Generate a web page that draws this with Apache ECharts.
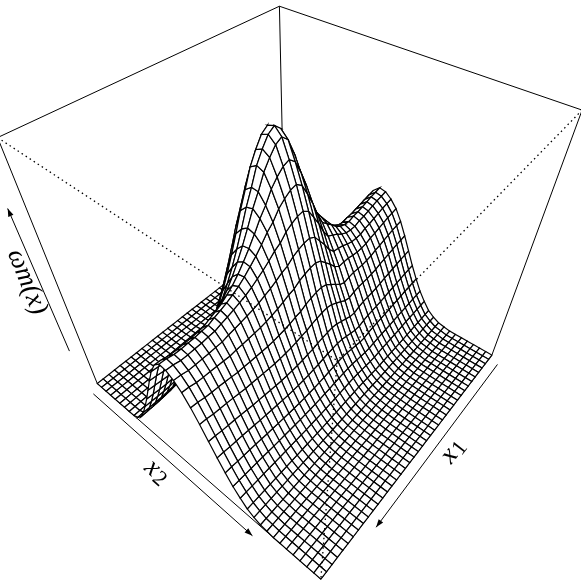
<!DOCTYPE html>
<html>
<head>
<meta charset="utf-8">
<style>html,body{margin:0;padding:0;background:#fff}#main{width:581px;height:581px}</style>
<script src="https://cdn.jsdelivr.net/npm/echarts@6/dist/echarts.min.js"></script>
</head>
<body>
<div id="main"></div>
<script>
(function () {
    'use strict';

    var tallPeakAlongX1 = [0, 0, 0, .01, .02, .03, .05, .07, .12, .2, .3, .45, .62, .82, 1.05, 1.27, 1.45, 1.58, 1.63, 1.6, 1.53, 1.44, 1.31, 1.18, 1.03, .88, .74, .61, .49, .39, .3, .24, .18, .13, .095, .065, .045, .03, .02, .012, .007];
    var tallPeakAcrossX2 = [0, 0, 0, 0, .01, .02, .04, .08, .15, .26, .42, .6, .78, .93, 1, .98, .92, .82, .72, .62, .52, .43, .34, .27, .2, .15, .11, .08, .055, .035, .02, .012, .007, .004, .002, 0, 0, 0, 0, 0, 0];
    var ridgeAlongX1 = [.98, .97, .96, .94, .92, .9, .88, .85, .82, .78, .74, .68, .6, .5, .43, .39, .36, .345, .33, .325, .32, .325, .33, .345, .36, .39, .42, .46, .5, .55, .6, .65, .7, .75, .8, .85, .89, .92, .95, .98, 1];
    var ridgeAcrossX2 = [0, 0, 0, 0, 0, 0, 0, 0, 0, .03, .09, .19, .31, .44, .58, .72, .85, .95, 1, .99, .95, .89, .8, .69, .57, .45, .34, .24, .16, .09, .05, .02, .01, 0, 0, 0, 0, 0, 0, 0, 0];
    var shoulderAlongX1 = [0, 0, 0, 0, 0, 0, 0, 0, 0, 0, 0, 0, 0, 0, 0, 0, 0, .02, .05, .08, .13, .17, .22, .29, .36, .41, .46, .48, .5, .49, .47, .42, .375, .31, .255, .19, .14, .1, .06, .04, .02];
    var shoulderAcrossX2 = [0, 0, 0, 0, 0, 0, 0, 0, 0, 0, 0, 0, 0, 0, .05, .14, .28, .42, .52, .55, .52, .43, .34, .27, .2, .15, .11, .08, .055, .035, .02, .012, .007, .004, .002, 0, 0, 0, 0, 0, 0];

    var labelX1 = 'x';
    var labelX2 = 'x';
    var labelZ = 'ωm(x)';

    var view = {theta: 40, phi: 45, dist: 3.65, focal: 610, cx: 298.5, cy: 270};
    var sinT = Math.sin(view.theta * Math.PI / 180);
    var cosT = Math.cos(view.theta * Math.PI / 180);
    var sinP = Math.sin(view.phi * Math.PI / 180);
    var cosP = Math.cos(view.phi * Math.PI / 180);

    // a = x1, b = x2, both -1..1, h = height above the floor, 0..2
    function project(a, b, h) {
        var z = h - 1;
        var across = -sinT * a + cosT * b;
        var depth = -(cosT * a + sinT * b);
        var w = view.dist + depth * cosP - z * sinP;
        var up = depth * sinP + z * cosP;
        return [view.cx + view.focal * across / w, view.cy - view.focal * up / w, w];
    }

    var n = tallPeakAlongX1.length;
    var heights = [];
    var i, j;
    for (i = 0; i < n; i++) {
        heights[i] = [];
        for (j = 0; j < n; j++) {
            heights[i][j] = tallPeakAlongX1[i] * tallPeakAcrossX2[j] +
                ridgeAlongX1[i] * ridgeAcrossX2[j] +
                shoulderAlongX1[i] * shoulderAcrossX2[j];
        }
    }

    function gridPoint(i, j) {
        return project(-1 + 2 * i / (n - 1), -1 + 2 * j / (n - 1), heights[i][j]);
    }

    // far cells first so the near ones paint over them
    var cells = [];
    for (i = 0; i < n - 1; i++) {
        for (j = 0; j < n - 1; j++) {
            cells.push([i, j, gridPoint(i, j)[2] + gridPoint(i + 1, j)[2] + gridPoint(i, j + 1)[2] + gridPoint(i + 1, j + 1)[2]]);
        }
    }
    cells.sort(function (p, q) {
        return q[2] - p[2];
    });

    var solidEdges = [
        [[-1, -1, 2], [1, -1, 2]],
        [[-1, -1, 2], [-1, 1, 2]],
        [[-1, -1, 2], [-1, -1, 0]],
        [[1, -1, 2], [1, -1, 0]],
        [[-1, 1, 2], [-1, 1, 0]],
        [[1, -1, 0], [1, 1, 0]],
        [[-1, 1, 0], [1, 1, 0]]
    ];
    var dottedEdges = [
        [[1, -1, 2], [1, 1, 2]],
        [[-1, 1, 2], [1, 1, 2]],
        [[1, 1, 2], [1, 1, 0]]
    ];
    var arrows = [
        [[-.95, 1.07, 0], [.57, 1.07, 0]],
        [[1.07, -.95, 0], [1.07, .55, 0]],
        [[1.065, -1.065, .38], [1.065, -1.065, 1.58]]
    ];

    function renderSegment(params, api, list, dash) {
        var seg = list[api.value(0)];
        var p = api.coord(project(seg[0][0], seg[0][1], seg[0][2]));
        var q = api.coord(project(seg[1][0], seg[1][1], seg[1][2]));
        return {
            type: 'line',
            shape: {x1: p[0], y1: p[1], x2: q[0], y2: q[1]},
            style: {stroke: '#000', lineWidth: dash ? 1.3 : 1, lineDash: dash}
        };
    }

    function indexData(list) {
        return list.map(function (d, k) {
            return [k, 0];
        });
    }

    function renderArrow(params, api) {
        var seg = arrows[api.value(0)];
        var p = api.coord(project(seg[0][0], seg[0][1], seg[0][2]));
        var q = api.coord(project(seg[1][0], seg[1][1], seg[1][2]));
        var ang = Math.atan2(q[1] - p[1], q[0] - p[0]);
        var back = [q[0] - 8 * Math.cos(ang), q[1] - 8 * Math.sin(ang)];
        var nx = -Math.sin(ang) * 2.8;
        var ny = Math.cos(ang) * 2.8;
        return {
            type: 'group',
            children: [{
                type: 'line',
                shape: {x1: p[0], y1: p[1], x2: q[0], y2: q[1]},
                style: {stroke: '#000', lineWidth: 1}
            }, {
                type: 'polygon',
                shape: {points: [q, [back[0] + nx, back[1] + ny], [back[0] - nx, back[1] - ny]]},
                style: {fill: '#000'}
            }]
        };
    }

    var serif = '"Liberation Serif"';
    var rich = {
        v: {font: 'italic 27px ' + serif},
        s: {font: '22px ' + serif, verticalAlign: 'bottom', padding: [8, 0, 0, 1]}
    };
    var labels = [
        {at: [453, 451], rot: 52, text: '{v|' + labelX1 + '}{s|1}'},
        {at: [157, 472], rot: -42, text: '{v|' + labelX2 + '}{s|2}'},
        {at: [27, 282], rot: -68, text: '{v|' + labelZ + '}'}
    ];

    var chart = echarts.init(document.getElementById('main'), null, {renderer: 'canvas'});
    chart.setOption({
        animation: false,
        grid: {left: 0, right: 0, top: 0, bottom: 0},
        xAxis: {type: 'value', min: 0, max: 581, show: false},
        yAxis: {type: 'value', min: 0, max: 581, inverse: true, show: false},
        series: [{
            type: 'custom',
            name: 'box back',
            coordinateSystem: 'cartesian2d',
            z: 1,
            silent: true,
            clip: false,
            data: indexData(solidEdges),
            renderItem: function (params, api) {
                return renderSegment(params, api, solidEdges, null);
            }
        }, {
            type: 'custom',
            name: 'surface',
            coordinateSystem: 'cartesian2d',
            z: 2,
            silent: true,
            clip: false,
            progressive: 0,
            data: cells,
            renderItem: function (params, api) {
                var a = api.value(0);
                var b = api.value(1);
                var pts = [gridPoint(a, b), gridPoint(a + 1, b), gridPoint(a + 1, b + 1), gridPoint(a, b + 1)];
                return {
                    type: 'polygon',
                    shape: {points: pts.map(function (p) {
                        return api.coord([p[0], p[1]]);
                    })},
                    style: {fill: '#fff', stroke: '#000', lineWidth: 1.2}
                };
            }
        }, {
            type: 'custom',
            name: 'box front',
            coordinateSystem: 'cartesian2d',
            z: 3,
            silent: true,
            clip: false,
            data: indexData(dottedEdges),
            renderItem: function (params, api) {
                return renderSegment(params, api, dottedEdges, [1.5, 3.3]);
            }
        }, {
            type: 'custom',
            name: 'arrows',
            coordinateSystem: 'cartesian2d',
            z: 3,
            silent: true,
            clip: false,
            data: indexData(arrows),
            renderItem: renderArrow
        }, {
            type: 'custom',
            name: 'labels',
            coordinateSystem: 'cartesian2d',
            z: 4,
            silent: true,
            clip: false,
            data: indexData(labels),
            renderItem: function (params, api) {
                var l = labels[api.value(0)];
                var p = api.coord(l.at);
                return {
                    type: 'text',
                    x: p[0],
                    y: p[1],
                    rotation: l.rot * Math.PI / 180,
                    style: {text: l.text, rich: rich, align: 'center', verticalAlign: 'middle', fill: '#000'}
                };
            }
        }]
    });
})();
</script>
</body>
</html>
